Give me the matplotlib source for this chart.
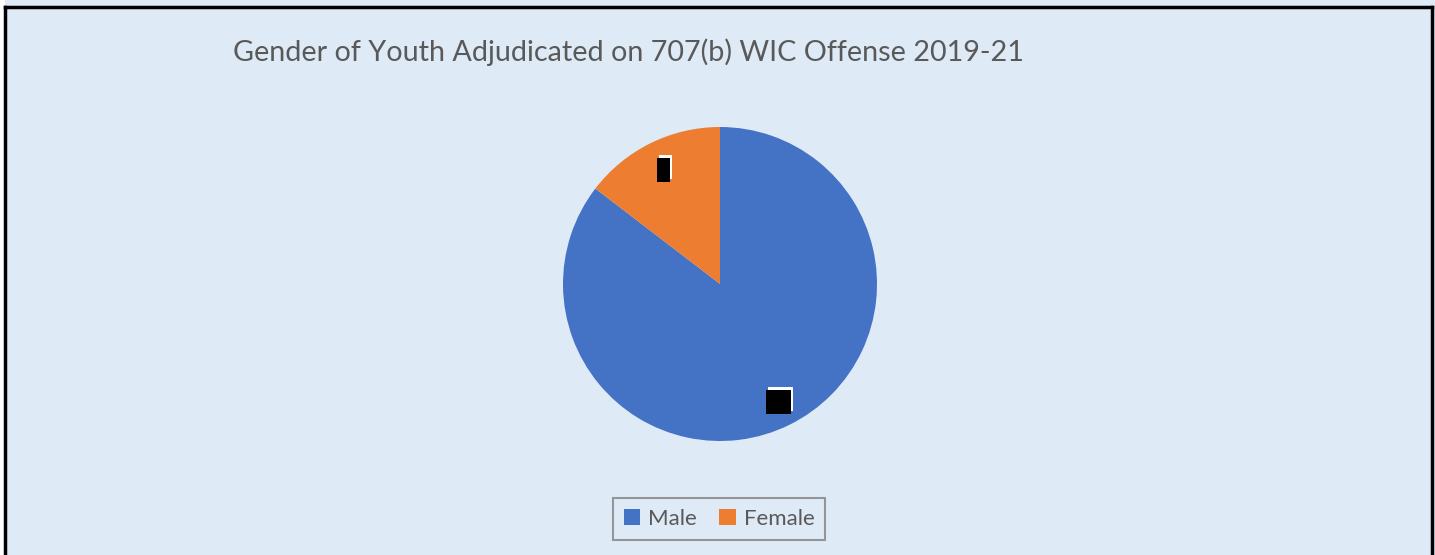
import numpy as np
import matplotlib.pyplot as plt
from matplotlib.patches import Rectangle
from matplotlib.lines import Line2D

# data (labels are blacked out in the source)
labels = ['Male', 'Female']
shares = [85.4, 14.6]
colors = ['#4472C4', '#ED7D31']
title = 'Gender of Youth Adjudicated on 707(b) WIC Offense 2019-21'

W, H = 1435, 555
bg = '#DEEAF6'
font = 'Lato'

fig = plt.figure(figsize=(W / 100, H / 100), dpi=100)
fig.patch.set_facecolor(bg)

# pie centre at (720, 284) px, radius 157 px
cx, cy, r = 720, 284, 157
ax = fig.add_axes([(cx - r) / W, (H - cy - r) / H, 2 * r / W, 2 * r / H])
ax.set_facecolor('none')
wedges, _ = ax.pie(shares, colors=colors, startangle=90, counterclock=False,
                   radius=1.0, wedgeprops=dict(linewidth=0))
ax.set_xlim(-1, 1)
ax.set_ylim(-1, 1)
ax.set_aspect('equal')
ax.axis('off')

# redacted data labels: black box with white offset behind it
box_sizes = [(25, 24), (13, 24)]
label_dist = [0.84, 0.81]
for w, (bw, bh), d in zip(wedges, box_sizes, label_dist):
    mid = np.deg2rad((w.theta1 + w.theta2) / 2)
    x, y = d * np.cos(mid), d * np.sin(mid)
    bw, bh = bw / r, bh / r
    ax.add_patch(Rectangle((x - bw / 2 + 2 / r, y - bh / 2 + 3 / r), bw, bh,
                           facecolor='white', edgecolor='none', zorder=3))
    ax.add_patch(Rectangle((x - bw / 2, y - bh / 2), bw, bh,
                           facecolor='black', edgecolor='none', zorder=4))

t = fig.text(233 / W, 1 - 52 / H, title, fontsize=20, color='#595959',
             family=font, va='center', ha='left')
# fit title to the width seen in the reference (233 -> 1025 px)
fig.canvas.draw()
tw = t.get_window_extent().width
t.set_fontsize(20 * 792 / tw)

leg = fig.legend(wedges, labels, loc='center', bbox_to_anchor=(719 / W, 1 - 519 / H),
                 ncol=2, frameon=True, fancybox=False,
                 handlelength=0.75, handleheight=0.75, handletextpad=0.35,
                 columnspacing=1.0, borderpad=0.5, borderaxespad=0,
                 prop=dict(family=font, size=16))
leg.get_frame().set_edgecolor('#808080')
leg.get_frame().set_facecolor(bg)
leg.get_frame().set_linewidth(1.5)
for txt in leg.get_texts():
    txt.set_color('#595959')

# outer frame (top, left, right)
lw = 2.5
fig.add_artist(Line2D([5 / W, 5 / W], [0, 1 - 7 / H], color='black', lw=lw))
fig.add_artist(Line2D([1432 / W, 1432 / W], [0, 1 - 7 / H], color='black', lw=lw))
fig.add_artist(Line2D([5 / W, 1432 / W], [1 - 7 / H, 1 - 7 / H], color='black', lw=lw))
fig.patches.append(Rectangle((0, 0), 5 / W, 1, transform=fig.transFigure,
                             facecolor='white', edgecolor='none', zorder=-1))

fig.savefig('out.png', dpi=100, facecolor=bg)
